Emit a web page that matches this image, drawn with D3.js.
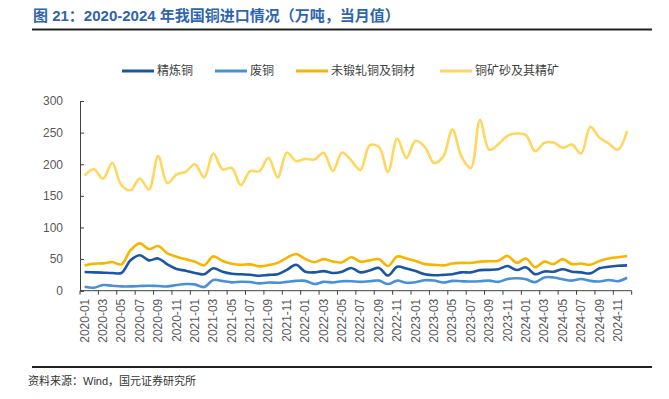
<!DOCTYPE html>
<html>
<head>
<meta charset="utf-8">
<script src="https://cdn.jsdelivr.net/npm/d3@7"></script>
<style>
  body { margin: 0; background: #fff; }
  svg { display: block; font-family: "Liberation Sans", Arial, "Noto Sans CJK SC", sans-serif; }
</style>
</head>
<body>
<div id="chart"></div>
<script>
// categories, one per month
var months = [
  "2020-01","2020-02","2020-03","2020-04","2020-05","2020-06","2020-07","2020-08","2020-09","2020-10","2020-11","2020-12",
  "2021-01","2021-02","2021-03","2021-04","2021-05","2021-06","2021-07","2021-08","2021-09","2021-10","2021-11","2021-12",
  "2022-01","2022-02","2022-03","2022-04","2022-05","2022-06","2022-07","2022-08","2022-09","2022-10","2022-11","2022-12",
  "2023-01","2023-02","2023-03","2023-04","2023-05","2023-06","2023-07","2023-08","2023-09","2023-10","2023-11","2023-12",
  "2024-01","2024-02","2024-03","2024-04","2024-05","2024-06","2024-07","2024-08","2024-09","2024-10","2024-11","2024-12"
];

// 精炼铜
var refined = [29.5,29,28.5,28,28,48,56,48,51,41.6,34.3,31.6,
  28,25.9,35.4,30,26.9,25.9,25.3,23.7,25,26,33,41,
  30,29,31,28,30,36,29,32,36,24,38,35,
  31,26,24.5,25,26,29,29,32.5,33,34,39,32.7,
  37,26,30.5,30,34,30,29,27.4,35.4,38,39.5,40];

// 废铜
var scrap = [6.3,4.7,9,7.9,6.8,6.8,7.4,7.9,7.4,6.8,9,10.6,
  10,5.8,16.9,15.3,13.2,14.2,13.7,11.6,13,12.5,14,15.5,
  15.5,10.5,14,13,15,15,14,15,16,10.5,16,12.5,
  13.5,16.5,16,13,15.5,15,14.5,15,16,14,18.5,19.6,
  18,13.5,21,21,18,16,18.5,15.5,14.5,17,15,20.5];

// 未锻轧铜及铜材
var unwrought = [40,42.7,43.2,45.3,41.6,64,74.8,65.9,70.6,59,53.7,49.6,
  45.8,40,54.3,47,42.7,41,41.6,38.5,40.5,44,52,58,
  50,45,50,46,45,53,46,48,50,39,54,51,
  47,42,41,40,43,44,44,46,46.5,47.5,55,44,
  51,37,46,42,50,42,43,41,47,51,53,55];

// 铜矿砂及其精矿
var ore = [182,192,177,202,167,159,177.5,160,213,170,184,188,
  200,179,217,192,194,167,189,189,210,179,218.6,205,
  208.5,207.5,218,189,218.6,206,190.7,230,227.5,188,240.7,210,
  237,227.5,202,212,255,211.7,194,269.7,223,231.7,245,248.6,
  246,220.7,233.8,234.4,226,231,217,259,242,232.8,223,252.7];

var yTicks = [0, 50, 100, 150, 200, 250, 300];

var seriesNames = ["精炼铜", "废铜", "未锻轧铜及铜材", "铜矿砂及其精矿"];
var seriesData = [refined, scrap, unwrought, ore];
var seriesColors = ["#1B56A5", "#4A90D9", "#F7B500", "#FFD65E"];

var width = 669, height = 399;
var plot = {left: 80, right: 631.7, top: 101, bottom: 290.7};

var svg = d3.select("#chart")
  .append("svg")
  .attr("width", width)
  .attr("height", height);

// title + rule under it
svg.append("text")
  .attr("x", 33)
  .attr("y", 21)
  .attr("fill", "#2F64AE")
  .attr("font-size", "15px")
  .attr("font-weight", "bold")
  .text("图 21：2020-2024 年我国铜进口情况（万吨，当月值）");
svg.append("line")
  .attr("x1", 32).attr("x2", 652)
  .attr("y1", 29.5).attr("y2", 29.5)
  .attr("stroke", "#222")
  .attr("stroke-width", 2);

// scales
var x = d3.scaleBand()
  .domain(months)
  .range([plot.left, plot.right]);
var y = d3.scaleLinear()
  .domain([0, 300])
  .range([plot.bottom, plot.top]);

// y axis
var yAxis = svg.append("g")
  .attr("transform", "translate(" + plot.left + ",0)")
  .call(d3.axisLeft(y).tickValues(yTicks).tickSize(-4).tickPadding(17));
yAxis.select(".domain").attr("stroke", "#404040");
yAxis.selectAll(".tick line").attr("stroke", "#404040");
yAxis.selectAll("text")
  .attr("fill", "#595959")
  .attr("font-size", "12px")
  .attr("font-family", "Liberation Sans, Arial, sans-serif");

// x axis: ticks on every second month boundary, labels on odd months
var xAxis = svg.append("g")
  .attr("transform", "translate(0," + plot.bottom + ")");
xAxis.append("line")
  .attr("x1", plot.left).attr("x2", plot.right)
  .attr("stroke", "#404040");
var boundaries = months.filter(function(d, i) { return i % 2 == 0; });
xAxis.selectAll(".xtick")
  .data(boundaries.concat([null]))
  .enter()
  .append("line")
  .attr("class", "xtick")
  .attr("x1", function(d) { return d == null ? plot.right : x(d); })
  .attr("x2", function(d) { return d == null ? plot.right : x(d); })
  .attr("y1", 0).attr("y2", 4)
  .attr("stroke", "#404040");
xAxis.selectAll(".xlabel")
  .data(boundaries)
  .enter()
  .append("text")
  .attr("class", "xlabel")
  .attr("transform", function(d) {
    return "translate(" + (x(d) + x.bandwidth() / 2 + 4) + ",8)rotate(-90)";
  })
  .attr("text-anchor", "end")
  .attr("fill", "#595959")
  .attr("font-size", "12px")
  .text(function(d) { return d; });

// lines
var line = d3.line()
  .x(function(d, i) { return x(months[i]) + x.bandwidth() / 2; })
  .y(function(d) { return y(d); })
  .curve(d3.curveCatmullRom);

seriesData.forEach(function(s, k) {
  svg.append("path")
    .datum(s)
    .attr("d", line)
    .attr("fill", "none")
    .attr("stroke", seriesColors[k])
    .attr("stroke-width", 2.6)
    .attr("stroke-linejoin", "round");
});

// legend
var legendX = [122, 215, 296, 440];
seriesNames.forEach(function(name, k) {
  var g = svg.append("g").attr("transform", "translate(" + legendX[k] + ",71)");
  g.append("line")
    .attr("x1", 0).attr("x2", 32)
    .attr("stroke", seriesColors[k])
    .attr("stroke-width", 3);
  g.append("text")
    .attr("x", 35)
    .attr("y", 4)
    .attr("fill", "#404040")
    .attr("font-size", "12px")
    .attr("font-family", "Noto Sans CJK SC, sans-serif")
    .text(name);
});

// footer
svg.append("line")
  .attr("x1", 32).attr("x2", 652)
  .attr("y1", 367).attr("y2", 367)
  .attr("stroke", "#222")
  .attr("stroke-width", 2);
svg.append("text")
  .attr("x", 28)
  .attr("y", 385)
  .attr("fill", "#333")
  .attr("font-size", "11px")
  .text("资料来源：Wind，国元证券研究所");
</script>
</body>
</html>
